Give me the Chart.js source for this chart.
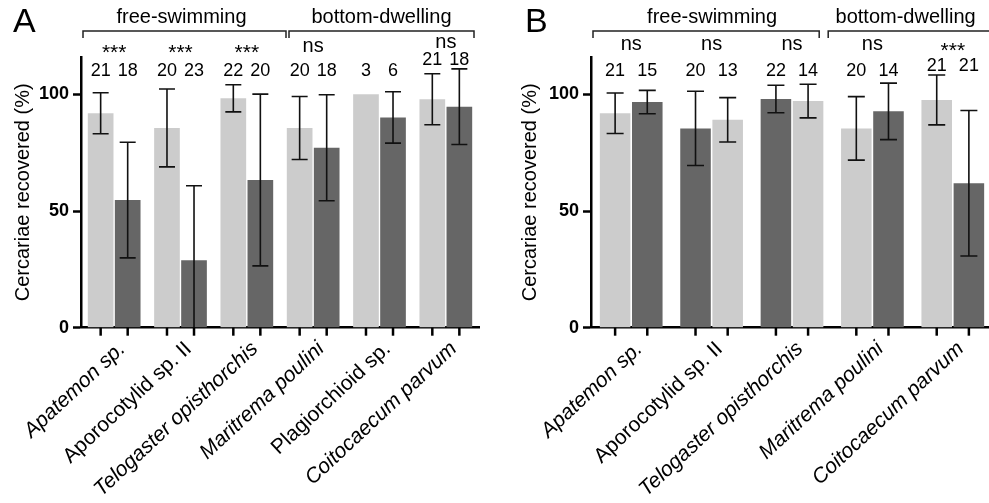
<!DOCTYPE html>
<html>
<head>
<meta charset="utf-8">
<script src="https://cdn.jsdelivr.net/npm/chart.js@4.4.1/dist/chart.umd.min.js"></script>
<style>
  html, body { margin: 0; padding: 0; background: #fff; overflow: hidden; }
  #wrap { position: relative; width: 989px; height: 503px; overflow: hidden; }
  #boxA { position: absolute; left: 0; top: 0; width: 490px; height: 503px; }
  #boxB { position: absolute; left: 490px; top: 0; width: 515px; height: 503px; }
</style>
</head>
<body>
<div id="wrap">
  <div id="boxA"><canvas id="chartA"></canvas></div>
  <div id="boxB"><canvas id="chartB"></canvas></div>
</div>
<script>
// ---- Panel A ----
const speciesA = ['Apatemon sp.', 'Aporocotylid sp. II', 'Telogaster opisthorchis', 'Maritrema poulini', 'Plagiorchioid sp.', 'Coitocaecum parvum'];
const italicA = [true, false, true, true, false, true];
const leftMeanA = [91.9, 85.6, 98.3, 85.6, 100, 97.9];
const leftSdA = [8.8, 16.7, 5.8, 13.5, 0, 10.9];
const rightMeanA = [54.7, 28.9, 63.3, 77.1, 90.1, 94.7];
const rightSdA = [24.8, 31.9, 36.8, 22.7, 11, 16.2];
const leftNA = [21, 20, 22, 20, 3, 21];
const rightNA = [18, 23, 20, 18, 6, 18];
const leftShadeA = ['light', 'light', 'light', 'light', 'light', 'light'];
const sigA = ['***', '***', '***', 'ns', '', 'ns'];
const groupsA = [
    { label: 'free-swimming', from: 0, to: 2 },
    { label: 'bottom-dwelling', from: 3, to: 5 }
];

// ---- Panel B ----
const speciesB = ['Apatemon sp.', 'Aporocotylid sp. II', 'Telogaster opisthorchis', 'Maritrema poulini', 'Coitocaecum parvum'];
const italicB = [true, false, true, true, true];
const leftMeanB = [91.9, 85.4, 98.0, 85.4, 97.6];
const leftSdB = [8.7, 15.9, 5.9, 13.6, 10.7];
const rightMeanB = [96.7, 89.1, 97.1, 92.7, 61.9];
const rightSdB = [5, 9.5, 7.2, 12.1, 31.2];
const leftNB = [21, 20, 22, 20, 21];
const rightNB = [15, 13, 14, 14, 21];
const leftShadeB = ['light', 'dark', 'dark', 'light', 'light'];
const sigB = ['ns', 'ns', 'ns', 'ns', '***'];
const groupsB = [
    { label: 'free-swimming', from: 0, to: 2 },
    { label: 'bottom-dwelling', from: 3, to: 4 }
];

const FONT = '"Liberation Sans", Arial, Helvetica, sans-serif';
const shades = { light: '#cccccc', dark: '#666666' };
const other = s => (s === 'light' ? 'dark' : 'light');

const panelExtras = {
    id: 'panelExtras',
    afterDatasetsDraw(chart, args, o) {
        const { ctx, scales: { y } } = chart;
        ctx.save();
        ctx.strokeStyle = '#111';
        ctx.lineWidth = 1.6;
        chart.data.datasets.forEach((ds, di) => {
            chart.getDatasetMeta(di).data.forEach((bar, i) => {
                const sd = ds.sd[i];
                if (!sd) return;
                const m = ds.data[i];
                const yt = y.getPixelForValue(m + sd);
                const yb = y.getPixelForValue(Math.max(0, m - sd));
                ctx.beginPath();
                ctx.moveTo(bar.x, yt);
                ctx.lineTo(bar.x, yb);
                ctx.moveTo(bar.x - o.cap, yt);
                ctx.lineTo(bar.x + o.cap, yt);
                if (m - sd > 0) {
                    ctx.moveTo(bar.x - o.cap, yb);
                    ctx.lineTo(bar.x + o.cap, yb);
                }
                ctx.stroke();
            });
        });
        ctx.restore();
    },
    afterDraw(chart, args, o) {
        const { ctx, chartArea, scales: { x, y } } = chart;
        const dsets = chart.data.datasets;
        const metas = dsets.map((_, di) => chart.getDatasetMeta(di));
        ctx.save();

        // tick marks under every bar
        ctx.strokeStyle = '#000';
        ctx.lineWidth = 2.5;
        metas.forEach(meta => meta.data.forEach(bar => {
            ctx.beginPath();
            ctx.moveTo(bar.x, chartArea.bottom);
            ctx.lineTo(bar.x, chartArea.bottom + 8);
            ctx.stroke();
        }));

        // n above each bar, significance above each pair
        ctx.fillStyle = '#000';
        ctx.textAlign = 'center';
        chart.data.labels.forEach((_, i) => {
            const top = Math.max(...dsets.map(ds => ds.data[i] + ds.sd[i]));
            const ny = y.getPixelForValue(Math.max(o.nFloor, top + 4));
            ctx.font = '18px ' + FONT;
            ctx.textBaseline = 'middle';
            dsets.forEach((ds, di) => {
                ctx.fillText(String(ds.n[i]), metas[di].data[i].x, ny);
            });
            const s = o.sig[i];
            if (!s) return;
            const sy = Math.min(o.sigY, ny - 17);
            ctx.textBaseline = 'alphabetic';
            const cx = x.getPixelForValue(i);
            if (s === 'ns') {
                ctx.font = '20px ' + FONT;
                ctx.fillText(s, cx, sy + 5.2);
            } else {
                ctx.font = '21px ' + FONT;
                ctx.fillText(s, cx, sy + 12);
            }
        });

        // group brackets and titles
        const w = (chartArea.right - chartArea.left) / chart.data.labels.length;
        ctx.strokeStyle = '#222';
        ctx.lineWidth = 1.5;
        o.groups.forEach((g, gi) => {
            const adj = o.bracketAdj[gi];
            const l = x.getPixelForValue(g.from) - w / 2 + adj[0];
            const r = x.getPixelForValue(g.to) + w / 2 + adj[1];
            ctx.beginPath();
            ctx.moveTo(l, 38);
            ctx.lineTo(l, 31);
            ctx.lineTo(r, 31);
            ctx.lineTo(r, 38);
            ctx.stroke();
            ctx.font = '20px ' + FONT;
            ctx.textBaseline = 'alphabetic';
            ctx.textAlign = 'center';
            ctx.fillText(g.label, (l + r) / 2 + adj[2], 22.5);
        });

        // panel letter
        ctx.font = '34px ' + FONT;
        ctx.textAlign = 'left';
        ctx.textBaseline = 'alphabetic';
        ctx.fillText(o.letter, o.letterX, 32);
        ctx.restore();
    }
};

function makePanel(id, p) {
    const dsCommon = { categoryPercentage: p.catPct, barPercentage: 0.95, borderWidth: 0 };
    return new Chart(document.getElementById(id), {
        type: 'bar',
        data: {
            labels: p.labels,
            datasets: [
                { ...dsCommon, data: p.leftMean, sd: p.leftSd, n: p.leftN,
                  backgroundColor: p.leftShade.map(s => shades[s]) },
                { ...dsCommon, data: p.rightMean, sd: p.rightSd, n: p.rightN,
                  backgroundColor: p.leftShade.map(s => shades[other(s)]) }
            ]
        },
        options: {
            responsive: true,
            maintainAspectRatio: false,
            animation: false,
            layout: { padding: { top: 57, right: p.padRight, left: 0, bottom: 0 } },
            plugins: {
                legend: { display: false },
                tooltip: { enabled: false },
                panelExtras: {
                    cap: p.cap, nFloor: 109.8, sigY: p.sigY, sig: p.sig,
                    groups: p.groups, bracketAdj: p.bracketAdj,
                    letter: p.letter, letterX: p.letterX
                }
            },
            scales: {
                x: {
                    grid: { display: false, drawTicks: false },
                    border: { display: true, color: '#000', width: 2.5 },
                    ticks: {
                        autoSkip: false, minRotation: 43, maxRotation: 43,
                        labelOffset: 8, padding: 9, color: '#000',
                        font: c => ({ family: FONT, size: 21, style: p.italic[c.index] ? 'italic' : 'normal' })
                    },
                    afterFit: s => { s.height = 503 - 327.7; }
                },
                y: {
                    min: 0, max: 116,
                    ticks: {
                        stepSize: 50, includeBounds: false, padding: 4, color: '#000',
                        font: { family: FONT, size: 18, weight: 'bold' }
                    },
                    grid: { drawOnChartArea: false, drawTicks: true, tickLength: 8, tickWidth: 2.5, color: '#000' },
                    border: { display: true, color: '#000', width: 2.5 },
                    title: {
                        display: true, text: 'Cercariae recovered (%)', color: '#000',
                        font: { family: FONT, size: 20 }, padding: { top: p.titlePad, bottom: 0 }
                    },
                    afterFit: s => { s.width = p.yWidth; }
                }
            }
        },
        plugins: [panelExtras]
    });
}

makePanel('chartA', {
    labels: speciesA, italic: italicA,
    leftMean: leftMeanA, leftSd: leftSdA, leftN: leftNA,
    rightMean: rightMeanA, rightSd: rightSdA, rightN: rightNA,
    leftShade: leftShadeA, sig: sigA, groups: groupsA,
    bracketAdj: [[2, 6, -3], [9, -5, 0]],
    catPct: 0.815, cap: 8, sigY: 47, padRight: 11, yWidth: 81, titlePad: 11,
    letter: 'A', letterX: 13
});

makePanel('chartB', {
    labels: speciesB, italic: italicB,
    leftMean: leftMeanB, leftSd: leftSdB, leftN: leftNB,
    rightMean: rightMeanB, rightSd: rightSdB, rightN: rightNB,
    leftShade: leftShadeB, sig: sigB, groups: groupsB,
    bracketAdj: [[2, -13, 6], [-4, 0, -5]],
    catPct: 0.8, cap: 8.5, sigY: 45, padRight: 12, yWidth: 101, titlePad: 28,
    letter: 'B', letterX: 35
});
</script>
</body>
</html>
